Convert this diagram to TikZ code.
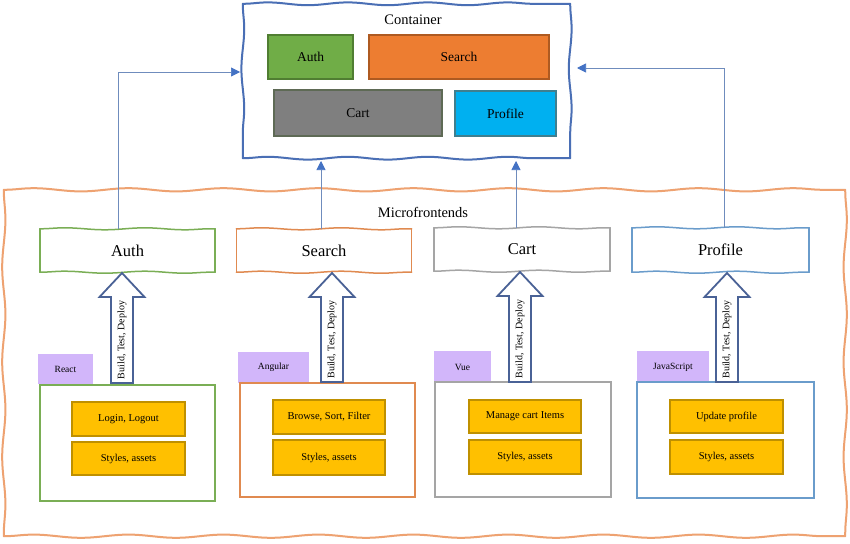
\documentclass[tikz,border=0pt]{standalone}
\usepackage{fontspec}
\setmainfont{Liberation Serif}
\usetikzlibrary{decorations.pathmorphing,arrows.meta}
\definecolor{cblue}{HTML}{4A6FB5}
\definecolor{corange}{HTML}{EEA271}
\definecolor{grn}{HTML}{70AD47}
\definecolor{grnd}{HTML}{507E32}
\definecolor{org}{HTML}{ED7D31}
\definecolor{orgd}{HTML}{AE5A21}
\definecolor{gry}{HTML}{7F7F7F}
\definecolor{gryd}{HTML}{5E6A55}
\definecolor{cyn}{HTML}{00B0F0}
\definecolor{cynd}{HTML}{3F7F8F}
\definecolor{hgrn}{HTML}{7AAE55}
\definecolor{horg}{HTML}{E08A50}
\definecolor{hgry}{HTML}{A5A5A5}
\definecolor{hblu}{HTML}{6A9CCB}
\definecolor{purp}{HTML}{D2B6FA}
\definecolor{yel}{HTML}{FFC000}
\definecolor{yeld}{HTML}{BF9000}
\definecolor{arrb}{HTML}{4A6296}
\definecolor{connc}{HTML}{6F8CBD}
\definecolor{tipc}{HTML}{4472C4}
\newcommand\wavyframe[5]{% node, colour, line width, amplitude, wavelength
  \begin{scope}[draw=#2,line width=#3,line cap=round,
      decoration={snake,segment length=#5,amplitude=#4}]
    \draw[decorate] (#1.north west) -- (#1.north east);
    \draw[decorate] (#1.north east) -- (#1.south east);
    \draw[decorate] (#1.south west) -- (#1.south east);
    \draw[decorate] (#1.north west) -- (#1.south west);
  \end{scope}}
\begin{document}
\begin{tikzpicture}[x=1pt,y=-1pt,
  frame/.style={inner sep=0pt},
  inbox/.style={draw,line width=1.5pt,inner sep=0pt,font=\fontsize{13.5}{15}\selectfont},
  hdr/.style={fill=white,inner sep=0pt,minimum width=175pt,minimum height=43pt,font=\fontsize{16.5}{19}\selectfont},
  lowbox/.style={draw,line width=1.5pt,inner sep=0pt,minimum width=176pt,minimum height=115pt},
  tab/.style={fill=purp,inner sep=0pt,minimum height=31pt,font=\fontsize{9.5}{11}\selectfont},
  ybox/.style={draw=yeld,fill=yel,line width=1.2pt,inner sep=0pt,minimum width=113pt,minimum height=34pt,font=\fontsize{10.5}{12}\selectfont},
  conn/.style={draw=connc,line width=0.7pt,-{Triangle[length=9pt,width=9pt,fill=tipc,color=tipc]}},
  barrow/.style={draw=arrb,fill=white,line width=1.8pt,line join=miter},
  lbl/.style={inner sep=0pt,font=\fontsize{14.5}{16}\selectfont}]
\useasboundingbox (0,0) rectangle (850,543);
\fill[white] (0,0) rectangle (850,543);

% Container
\node[frame,minimum width=327pt,minimum height=154pt] (cont) at (406.5,81) {};
\wavyframe{cont}{cblue}{2pt}{1.4pt}{80pt}
\node[lbl] (contlbl) at (413,20) {Container};
\node[inbox,draw=grnd,fill=grn,minimum width=85pt,minimum height=44pt] (cauth) at (310.5,57) {Auth};
\node[inbox,draw=orgd,fill=org,minimum width=180pt,minimum height=44pt] (csearch) at (459,57) {Search};
\node[inbox,draw=gryd,fill=gry,minimum width=168pt,minimum height=46pt] (ccart) at (358,113) {Cart};
\node[inbox,draw=cynd,fill=cyn,minimum width=101pt,minimum height=45pt] (cprofile) at (505.5,113.5) {Profile};

% Microfrontends frame
\node[frame,minimum width=841pt,minimum height=346pt] (micro) at (424.5,363) {};
\wavyframe{micro}{corange}{2pt}{1.6pt}{95pt}
\node[lbl] (microlbl) at (423,212) {Microfrontends};

% Headers
\node[hdr] (hauth) at (127.5,250.5) {Auth};
\wavyframe{hauth}{hgrn}{1.5pt}{1pt}{80pt}
\node[hdr] (hsearch) at (324,250.5) {Search};
\wavyframe{hsearch}{horg}{1.5pt}{1pt}{80pt}
\node[hdr,minimum width=176pt] (hcart) at (522,249.5) {Cart};
\wavyframe{hcart}{hgry}{1.5pt}{1pt}{80pt}
\node[hdr,minimum width=177pt,minimum height=44pt] (hprofile) at (720.5,250) {Profile};
\wavyframe{hprofile}{hblu}{1.5pt}{1pt}{80pt}

% Tabs
\node[tab,minimum width=55pt,minimum height=30pt] (treact) at (65.5,369) {React};
\node[tab,minimum width=71pt] (tangular) at (273.5,367.5) {Angular};
\node[tab,minimum width=57pt,minimum height=32pt] (tvue) at (462.5,367) {Vue};
\node[tab,minimum width=72pt,minimum height=32pt] (tjs) at (673,367) {JavaScript};

% Lower boxes
\node[lowbox,draw=hgrn,minimum width=175pt,minimum height=116pt] (lauth) at (127.5,443) {};
\node[lowbox,draw=horg,minimum width=175pt,minimum height=114pt] (lsearch) at (327.5,440) {};
\node[lowbox,draw=hgry] (lcart) at (523,439.5) {};
\node[lowbox,draw=hblu,minimum width=177pt,minimum height=116pt] (lprofile) at (725.5,440) {};

% Yellow boxes
\node[ybox] (ya1) at (128.5,419) {Login, Logout};
\node[ybox,minimum height=33pt] (ya2) at (128.5,458.5) {Styles, assets};
\node[ybox,minimum width=112pt] (ys1) at (329,417) {Browse, Sort, Filter};
\node[ybox,minimum width=112pt,minimum height=35pt] (ys2) at (329,457.5) {Styles, assets};
\node[ybox,minimum width=112pt,minimum height=33pt] (yc1) at (525,416.5) {Manage cart Items};
\node[ybox,minimum width=112pt] (yc2) at (525,457) {Styles, assets};
\node[ybox,minimum height=33pt] (yp1) at (726.5,416.5) {Update profile};
\node[ybox] (yp2) at (726.5,457) {Styles, assets};

% Block arrows: Build, Test, Deploy
\newcommand\buildarrow[4]{%
  \coordinate (#1tip) at (#2,#3);
  \coordinate (#1tail) at (#2,#4);
  \draw[barrow] (#2-11,#4) -- (#2-11,#3+24) -- (#2-22.5,#3+24) -- (#1tip) -- (#2+22.5,#3+24) -- (#2+11,#3+24) -- (#2+11,#4) -- cycle;
  \node[rotate=90,inner sep=0pt,font=\fontsize{10}{12}\selectfont] (#1txt) at (#2,{(#3+24+#4)/2}) {Build, Test, Deploy};}
\buildarrow{ba}{122}{273}{383}
\buildarrow{bs}{332}{273}{382}
\buildarrow{bc}{520}{272}{382}
\buildarrow{bp}{727}{273}{382}

% Connectors to container
\coordinate (inL) at (240,72);
\coordinate (inR) at (577,68);
\draw[conn] ([xshift=-9.5pt]hauth.north) |- (inL);
\draw[conn] ([xshift=-3pt]hsearch.north) -- (321,161);
\draw[conn] ([xshift=-6pt]hcart.north) -- (516,161);
\draw[conn] ([xshift=3.5pt]hprofile.north) |- (inR);
\end{tikzpicture}
\end{document}
